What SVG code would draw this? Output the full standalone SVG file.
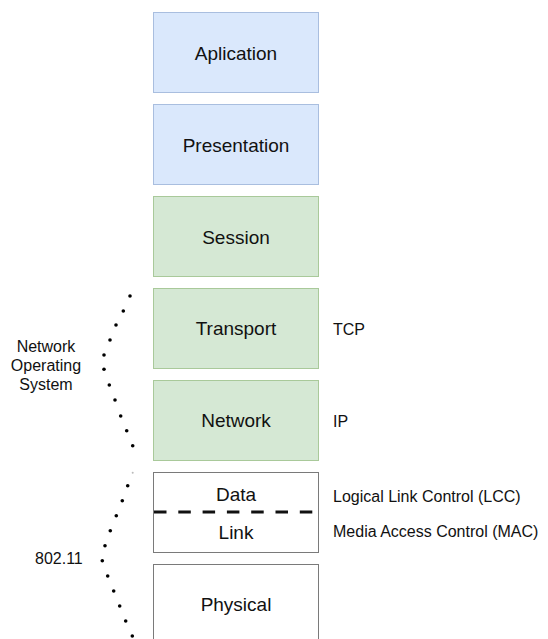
<svg xmlns="http://www.w3.org/2000/svg" width="548" height="639" viewBox="0 0 548 639">
  <style>
    .layer { stroke-width: 1; }
    .blue { fill: #dae8fc; stroke: #a9bedf; }
    .green { fill: #d5e8d4; stroke: #a9c99a; }
    .plain { fill: #ffffff; stroke: #7a7a7a; }
    .lbl { font-family: "Liberation Sans", Arial, sans-serif; font-size: 19px; fill: #111111; text-anchor: middle; }
    .side { font-family: "Liberation Sans", Arial, sans-serif; font-size: 16px; fill: #111111; }
    .mid { text-anchor: middle; }
    .dot { fill: #000000; }
  </style>
  <rect width="548" height="639" fill="#ffffff"/>

  <g id="application">
    <rect class="layer blue" x="153.5" y="12.5" width="165" height="80"/>
    <text class="lbl" x="236" y="60">Aplication</text>
  </g>
  <g id="presentation">
    <rect class="layer blue" x="153.5" y="104.5" width="165" height="80"/>
    <text class="lbl" x="236" y="152">Presentation</text>
  </g>
  <g id="session">
    <rect class="layer green" x="153.5" y="196.5" width="165" height="80"/>
    <text class="lbl" x="236" y="244">Session</text>
  </g>
  <g id="transport">
    <rect class="layer green" x="153.5" y="288.5" width="165" height="80"/>
    <text class="lbl" x="236" y="335">Transport</text>
  </g>
  <g id="network">
    <rect class="layer green" x="153.5" y="380.5" width="165" height="80"/>
    <text class="lbl" x="236" y="427">Network</text>
  </g>
  <g id="data-link">
    <rect class="layer plain" x="153.5" y="472.5" width="165" height="80"/>
    <line x1="154" y1="512" x2="318" y2="512" stroke="#111111" stroke-width="3" stroke-dasharray="12.5 11.8"/>
    <text class="lbl" x="236" y="501">Data</text>
    <text class="lbl" x="236" y="539">Link</text>
  </g>
  <g id="physical">
    <rect class="layer plain" x="153.5" y="564.5" width="165" height="90"/>
    <text class="lbl" x="236" y="611">Physical</text>
  </g>

  <!-- protocol annotations -->
  <g id="protocols">
    <text class="side" x="333" y="335">TCP</text>
    <text class="side" x="333" y="427">IP</text>
    <text class="side" x="333" y="502">Logical Link Control (LCC)</text>
    <text class="side" x="333" y="537">Media Access Control (MAC)</text>
  </g>

  <g id="nos-label">
    <text class="side mid" x="46" y="352">Network</text>
    <text class="side mid" x="46" y="371">Operating</text>
    <text class="side mid" x="46" y="390">System</text>
  </g>
  <g id="wifi-label">
    <text class="side" x="35" y="564">802.11</text>
  </g>

  <!-- dotted brackets -->
  <g id="connectors">
    <g id="nos-bracket">
      <circle class="dot" cx="130" cy="296" r="1.8"/>
      <circle class="dot" cx="123.3" cy="311" r="1.8"/>
      <circle class="dot" cx="116" cy="325" r="1.8"/>
      <circle class="dot" cx="110" cy="340" r="1.8"/>
      <circle class="dot" cx="104" cy="355" r="1.8"/>
      <circle class="dot" cx="104" cy="369.3" r="1.8"/>
      <circle class="dot" cx="109.3" cy="385" r="1.8"/>
      <circle class="dot" cx="115" cy="400" r="1.8"/>
      <circle class="dot" cx="120.7" cy="416" r="1.8"/>
      <circle class="dot" cx="126.7" cy="430.7" r="1.8"/>
      <circle class="dot" cx="132.7" cy="445.7" r="1.8"/>
    </g>
    <g id="wifi-bracket">
      <circle cx="132.7" cy="472.7" r="1" fill="#bbbbbb"/>
      <circle class="dot" cx="127.7" cy="485.7" r="1.8"/>
      <circle class="dot" cx="122.3" cy="500.7" r="1.8"/>
      <circle class="dot" cx="116.3" cy="515.7" r="1.8"/>
      <circle class="dot" cx="110.3" cy="530.7" r="1.8"/>
      <circle class="dot" cx="105" cy="545.7" r="1.8"/>
      <circle class="dot" cx="102.3" cy="560.7" r="1.8"/>
      <circle class="dot" cx="107.7" cy="576" r="1.8"/>
      <circle class="dot" cx="113.7" cy="591" r="1.8"/>
      <circle class="dot" cx="119.7" cy="606" r="1.8"/>
      <circle class="dot" cx="125.7" cy="621" r="1.8"/>
      <circle class="dot" cx="132.3" cy="636" r="1.8"/>
    </g>
  </g>
</svg>
